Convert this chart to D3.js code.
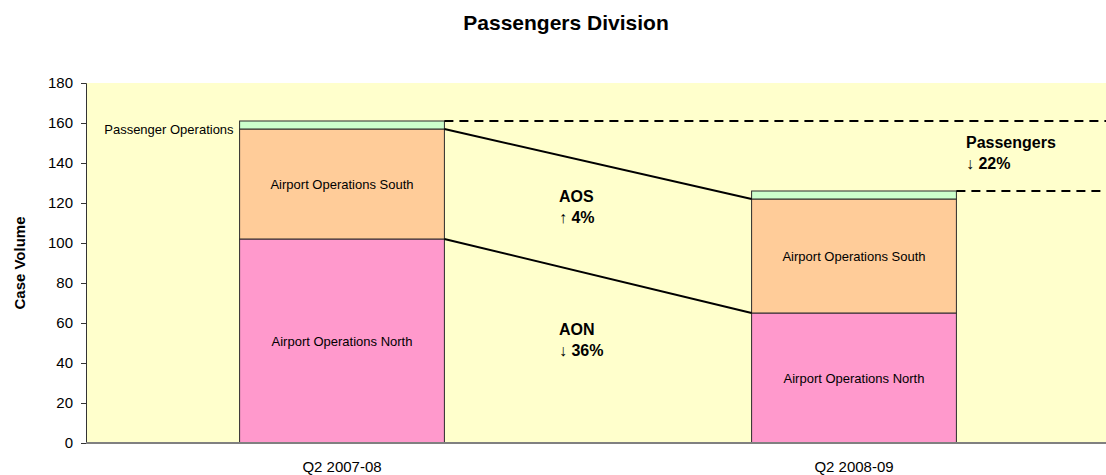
<!DOCTYPE html>
<html>
<head>
<meta charset="utf-8">
<script src="https://cdn.jsdelivr.net/npm/d3@7"></script>
<style>
  body { margin: 0; background: #fff; }
  text { font-family: "Liberation Sans", Arial, sans-serif; fill: #000; }
</style>
</head>
<body>
<svg width="1106" height="475"></svg>
<script>
var categories = ["Q2 2007-08", "Q2 2008-09"];
var seriesNames = ["Airport Operations North", "Airport Operations South", "Passenger Operations"];
var aon = [102, 65];
var aos = [55, 57];
var po = [4, 4];
var yTicks = [0, 20, 40, 60, 80, 100, 120, 140, 160, 180];
var colors = ["#FF99CC", "#FFCC99", "#CCFFCC"];

var svg = d3.select("svg"),
    width = +svg.attr("width"),
    height = +svg.attr("height");

var plotLeft = 86, plotTop = 83, plotBottom = 443, plotRight = 1110;

var x = d3.scaleBand().domain(categories).range([plotLeft, plotRight])
    .paddingInner(0.6).paddingOuter(0.3);
var y = d3.scaleLinear().domain([0, 180]).range([plotBottom, plotTop]);

// plot background
svg.append("rect")
    .attr("x", plotLeft).attr("y", plotTop)
    .attr("width", width - plotLeft).attr("height", plotBottom - plotTop)
    .style("fill", "#FFFFCC");

// stacked data
var rows = categories.map(function(c, i) {
  return { cat: c, "Airport Operations North": aon[i], "Airport Operations South": aos[i], "Passenger Operations": po[i] };
});
var stack = d3.stack().keys(seriesNames)(rows);

var layer = svg.append("g").selectAll("g")
    .data(stack)
    .enter().append("g")
    .style("fill", function(d, i) { return colors[i]; });

layer.selectAll("rect")
    .data(function(d) { return d; })
    .enter().append("rect")
    .attr("x", function(d) { return x(d.data.cat); })
    .attr("y", function(d) { return y(d[1]); })
    .attr("width", x.bandwidth())
    .attr("height", function(d) { return y(d[0]) - y(d[1]); })
    .style("stroke", "#2b2b2b")
    .style("stroke-width", "1px");

// segment labels (north / south inside the bars)
stack.slice(0, 2).forEach(function(s) {
  svg.append("g").selectAll("text")
    .data(s)
    .enter().append("text")
    .attr("x", function(d) { return x(d.data.cat) + x.bandwidth() / 2; })
    .attr("y", function(d) { return (y(d[0]) + y(d[1])) / 2; })
    .attr("dy", "0.35em")
    .attr("text-anchor", "middle")
    .style("font-size", "13px")
    .text(s.key);
});

// passenger operations label, left of first bar only
var p0 = stack[2][0];
svg.append("text")
    .attr("x", x(categories[0]) - 6)
    .attr("y", (y(p0[0]) + y(p0[1])) / 2 + 4)
    .attr("dy", "0.35em")
    .attr("text-anchor", "end")
    .style("font-size", "13px")
    .text("Passenger Operations");

// connector lines between bars
var x1 = x(categories[0]) + x.bandwidth(), x2 = x(categories[1]);
[stack[0], stack[1]].forEach(function(s) {
  svg.append("line")
    .attr("x1", x1).attr("y1", y(s[0][1]))
    .attr("x2", x2).attr("y2", y(s[1][1]))
    .style("stroke", "#000").style("stroke-width", 2);
});

// dashed total lines
var totals = stack[2].map(function(d) { return d[1]; });
svg.append("line")
    .attr("x1", x1).attr("y1", y(totals[0]))
    .attr("x2", width).attr("y2", y(totals[0]))
    .style("stroke", "#000").style("stroke-width", 2).style("stroke-dasharray", "9,6");
svg.append("line")
    .attr("x1", x2 + x.bandwidth()).attr("y1", y(totals[1]))
    .attr("x2", width).attr("y2", y(totals[1]))
    .style("stroke", "#000").style("stroke-width", 2).style("stroke-dasharray", "9,6");

// change annotations
function pct(a, b) {
  var v = Math.round((b - a) / a * 100);
  return (v < 0 ? "\u2193 " : "\u2191 ") + Math.abs(v) + "%";
}
var notes = [
  { name: "AOS", text: pct(aos[0], aos[1]), x: 559, v: 120.5 },
  { name: "AON", text: pct(aon[0], aon[1]), x: 559, v: 54 },
  { name: "Passengers", text: pct(totals[0], totals[1]), x: 966, v: 147.5 }
];
var note = svg.append("g").selectAll("text")
    .data(notes)
    .enter().append("text")
    .attr("x", function(d) { return d.x; })
    .attr("y", function(d) { return y(d.v); })
    .style("font-size", "16px")
    .style("font-weight", "bold");
note.append("tspan").text(function(d) { return d.name; });
note.append("tspan")
    .attr("x", function(d) { return d.x; })
    .attr("dy", 21)
    .text(function(d) { return d.text; });

// axes
var yAxis = svg.append("g")
    .attr("transform", "translate(" + plotLeft + ",0)")
    .call(d3.axisLeft(y).tickValues(yTicks).tickSize(5).tickPadding(8));
yAxis.select(".domain").style("stroke", "#333");
yAxis.selectAll(".tick line").style("stroke", "#333");
yAxis.selectAll("text").style("font-size", "15px")
    .style("font-family", "'Liberation Sans', Arial, sans-serif");

svg.append("line")
    .attr("x1", plotLeft).attr("y1", plotBottom)
    .attr("x2", width).attr("y2", plotBottom)
    .style("stroke", "#808080").style("stroke-width", 2);

svg.append("g").selectAll("text")
    .data(categories)
    .enter().append("text")
    .attr("x", function(d) { return x(d) + x.bandwidth() / 2; })
    .attr("y", 472)
    .attr("text-anchor", "middle")
    .style("font-size", "15px")
    .text(function(d) { return d; });

svg.append("text")
    .attr("transform", "translate(25," + ((plotTop + plotBottom) / 2) + ") rotate(-90)")
    .attr("text-anchor", "middle")
    .style("font-size", "15px")
    .style("font-weight", "bold")
    .text("Case Volume");

svg.append("text")
    .attr("x", 566)
    .attr("y", 30)
    .attr("text-anchor", "middle")
    .style("font-size", "21px")
    .style("font-weight", "bold")
    .text("Passengers Division");
</script>
</body>
</html>
